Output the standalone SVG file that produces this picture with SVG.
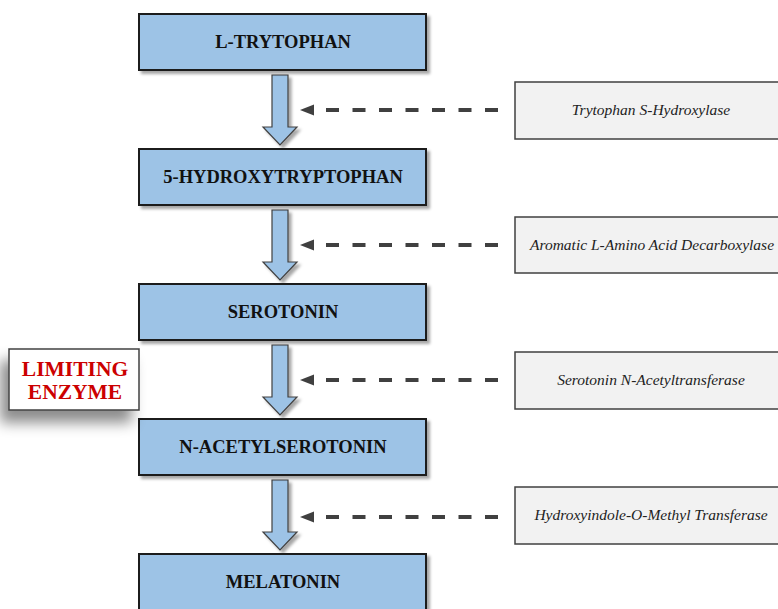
<svg xmlns="http://www.w3.org/2000/svg" width="778" height="609" viewBox="0 0 778 609">
<defs>
<filter id="sh" x="-10%" y="-10%" width="130%" height="140%">
<feDropShadow dx="3" dy="3" stdDeviation="1.8" flood-color="#000" flood-opacity="0.35"/>
</filter>
<filter id="bigsh" x="-40%" y="-40%" width="160%" height="200%">
<feDropShadow dx="-8" dy="12" stdDeviation="7" flood-color="#000" flood-opacity="0.45"/>
</filter>
<path id="darr" d="M272,0 H288 V52 H297 L280,70 L263,52 H272 Z"/>
</defs>
<style>
.node{fill:#9dc3e6;stroke:#1a1a1a;stroke-width:2}
.nt{font-family:'Liberation Serif','DejaVu Serif',serif;font-weight:bold;font-size:18.5px;fill:#111;text-anchor:middle}
.enz{fill:#f2f2f2;stroke:#404040;stroke-width:1.5}
.et{font-family:'Liberation Serif','DejaVu Serif',serif;font-style:italic;font-size:15.5px;fill:#222;text-anchor:middle}
.arr{fill:#9dc3e6;stroke:#404040;stroke-width:1.2}
.dash{fill:none;stroke:#404040;stroke-width:4;stroke-dasharray:13 13.5}
.lim{font-family:'Liberation Serif','DejaVu Serif',serif;font-weight:bold;font-size:21.5px;fill:#cc0000;text-anchor:middle}
</style>
<rect width="778" height="609" fill="#ffffff"/>

<g id="connectors">
<use href="#darr" class="arr" y="75" filter="url(#sh)"/>
<use href="#darr" class="arr" y="210" filter="url(#sh)"/>
<use href="#darr" class="arr" y="345" filter="url(#sh)"/>
<use href="#darr" class="arr" y="480" filter="url(#sh)"/>
<path class="dash" d="M498,110 H314"/>
<path d="M300,110 L314,104.5 L314,115.5 Z" fill="#404040"/>
<path class="dash" d="M498,245 H314"/>
<path d="M300,245 L314,239.5 L314,250.5 Z" fill="#404040"/>
<path class="dash" d="M498,380 H314"/>
<path d="M300,380 L314,374.5 L314,385.5 Z" fill="#404040"/>
<path class="dash" d="M498,517 H314"/>
<path d="M300,517 L314,511.5 L314,522.5 Z" fill="#404040"/>
</g>

<g id="n1"><rect class="node" x="139" y="14" width="287" height="56" filter="url(#sh)"/><text class="nt" x="283" y="48">L-TRYTOPHAN</text></g>
<g id="n2"><rect class="node" x="139" y="149" width="287" height="56" filter="url(#sh)"/><text class="nt" x="283" y="183">5-HYDROXYTRYPTOPHAN</text></g>
<g id="n3"><rect class="node" x="139" y="284" width="287" height="56" filter="url(#sh)"/><text class="nt" x="283" y="318">SEROTONIN</text></g>
<g id="n4"><rect class="node" x="139" y="419" width="287" height="56" filter="url(#sh)"/><text class="nt" x="283" y="453">N-ACETYLSEROTONIN</text></g>
<g id="n5"><rect class="node" x="139" y="554" width="287" height="60" filter="url(#sh)"/><text class="nt" x="283" y="588">MELATONIN</text></g>

<g id="e1"><rect class="enz" x="515" y="82" width="275" height="57"/><text class="et" x="651" y="115">Trytophan S-Hydroxylase</text></g>
<g id="e2"><rect class="enz" x="515" y="217" width="275" height="56"/><text class="et" x="652" y="250">Aromatic L-Amino Acid Decarboxylase</text></g>
<g id="e3"><rect class="enz" x="515" y="352" width="275" height="57"/><text class="et" x="651" y="385">Serotonin N-Acetyltransferase</text></g>
<g id="e4"><rect class="enz" x="515" y="487" width="275" height="57"/><text class="et" x="651" y="520">Hydroxyindole-O-Methyl Transferase</text></g>

<g id="limiting"><rect x="9" y="349" width="130" height="61" fill="#ffffff" stroke="#404040" stroke-width="1.5" filter="url(#bigsh)"/><text class="lim" x="75" y="376">LIMITING</text><text class="lim" x="75" y="399">ENZYME</text></g>
</svg>
